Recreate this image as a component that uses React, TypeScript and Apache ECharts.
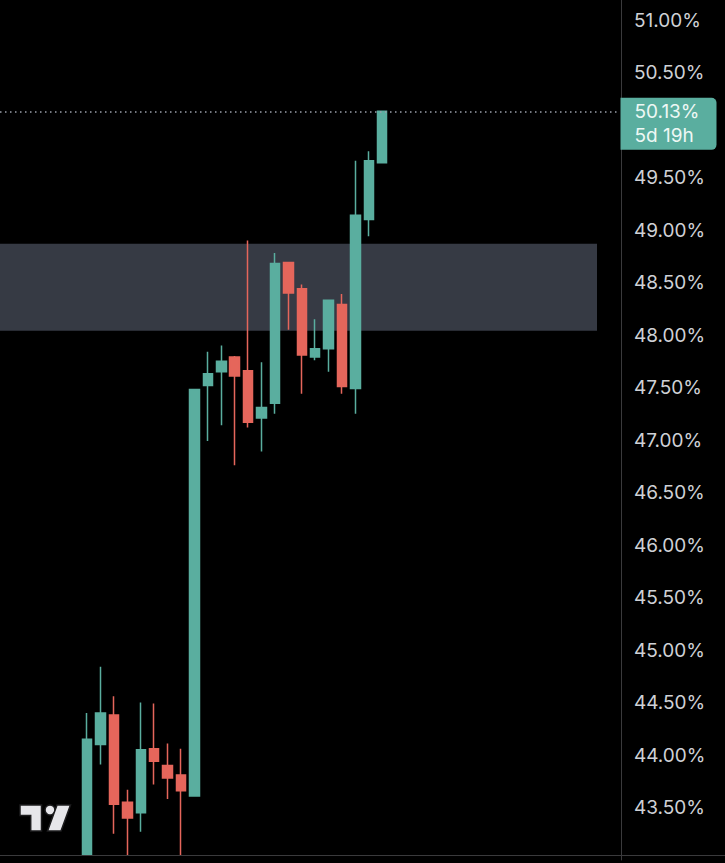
import React, { useEffect, useRef } from "react";
import * as echarts from "echarts";

// ---- data ----
const slots = [
  "s01", "s02", "s03", "s04", "s05", "s06", "s07", "s08", "s09", "s10",
  "s11", "s12", "s13", "s14", "s15", "s16", "s17", "s18", "s19", "s20",
  "s21", "s22", "s23", "s24", "s25", "s26", "s27", "s28", "s29", "s30",
  "s31", "s32", "s33", "s34", "s35", "s36", "s37", "s38", "s39", "s40",
  "s41", "s42", "s43", "s44", "s45", "s46",
];
const leadingEmpty = 6;

const openVals = [
  42.95, 44.1, 44.38, 43.55, 43.45, 44.06, 43.9, 43.81, 43.61, 47.52, 47.65, 47.79,
  47.66, 47.21, 47.35, 48.69, 48.44, 47.79, 47.87, 48.29, 47.49, 49.1, 49.64,
];
const closeVals = [
  44.15, 44.4, 43.53, 43.4, 44.05, 43.94, 43.78, 43.66, 47.48, 47.63, 47.75, 47.61,
  47.17, 47.31, 48.68, 48.4, 47.81, 47.87, 48.33, 47.51, 49.14, 49.66, 50.13,
];
const lowVals = [
  42.9, 43.91, 43.25, 42.9, 43.27, 43.72, 43.58, 42.9, 43.61, 46.99, 47.14, 46.76,
  47.12, 46.89, 47.25, 48.05, 47.44, 47.76, 47.65, 47.44, 47.25, 48.94, 49.64,
];
const highVals = [
  44.4, 44.84, 44.56, 43.67, 44.5, 44.49, 44.11, 44.06, 47.48, 47.84, 47.9, 47.8,
  48.9, 47.74, 48.78, 48.69, 48.48, 48.15, 48.33, 48.39, 49.66, 49.75, 50.13,
];

const lastPrice = 50.13;
const countdown = "5d 19h";
const zoneTop = 48.87;
const zoneBottom = 48.04;

const yMin = 43;
const yMax = 51.1905;
const yStep = 0.5;
const labelMin = 43.5;
const labelMax = 51;
const hiddenLabels = [50]; // covered by the last-price tag in the reference

const GREEN = "#5aae9f";
const RED = "#e5665b";

export default function App() {
  const ref = useRef<HTMLDivElement>(null);

  useEffect(() => {
    if (!ref.current) return;
    const chart = echarts.init(ref.current, null, { renderer: "svg" });

    const candleData: any[] = [];
    for (let i = 0; i < leadingEmpty; i++) candleData.push(["-", "-", "-", "-"]);
    for (let i = 0; i < openVals.length; i++) {
      candleData.push([openVals[i], closeVals[i], lowVals[i], highVals[i]]);
    }

    chart.setOption({
      animation: false,
      backgroundColor: "#000000",
      textStyle: { fontFamily: "Inter" },
      grid: { left: -2.54, top: 0, width: 619.5, bottom: 3, containLabel: false },
      xAxis: {
        type: "category",
        data: slots,
        boundaryGap: true,
        axisLine: { show: false },
        axisTick: { show: false },
        axisLabel: { show: false },
        splitLine: { show: false },
      },
      yAxis: {
        type: "value",
        position: "right",
        offset: 4,
        min: yMin,
        max: yMax,
        interval: yStep,
        axisLine: { show: true, lineStyle: { color: "#3a3a3c", width: 1 } },
        axisTick: { show: false },
        splitLine: { show: false },
        axisLabel: {
          margin: 13,
          color: "#cfd1d6",
          fontSize: 19,
          fontFamily: "Inter",
          formatter: (v: number) => {
            const onStep = Math.abs(v / yStep - Math.round(v / yStep)) < 1e-6;
            if (!onStep || v < labelMin - 1e-6 || v > labelMax + 1e-6) return "";
            if (hiddenLabels.some((h) => Math.abs(h - v) < 1e-6)) return "";
            return v.toFixed(2) + "%";
          },
        },
      },
      series: [
        {
          type: "candlestick",
          data: candleData,
          barWidth: 10,
          itemStyle: {
            color: GREEN,
            color0: RED,
            borderColor: GREEN,
            borderColor0: RED,
            borderWidth: 1.5,
          },
          markArea: {
            silent: true,
            itemStyle: { color: "#363a44" },
            data: [[{ yAxis: zoneTop, x: 0 }, { yAxis: zoneBottom, x: 597 }]],
          },
          markLine: {
            silent: true,
            symbol: ["none", "none"],
            label: { show: false },
            lineStyle: { color: "#9aa0ab", type: [1.5, 3.5], width: 1.5 },
            data: [{ yAxis: lastPrice }],
          },
          markPoint: {
            silent: true,
            z: 20,
            symbol: "rect",
            symbolSize: 1,
            itemStyle: { color: "rgba(0,0,0,0)" },
            data: [{ x: 621, yAxis: lastPrice, value: lastPrice }],
            label: {
              show: true,
              position: [0, -13],
              align: "left",
              verticalAlign: "top",
              formatter: () => `${lastPrice.toFixed(2)}%\n${countdown}`,
              color: "#eef8f5",
              fontSize: 19,
              fontFamily: "Inter",
              lineHeight: 24,
              backgroundColor: GREEN,
              padding: [2, 9, 2, 14],
              width: 73,
              borderRadius: [0, 5, 5, 0],
            },
          },
        },
      ],
      graphic: [
        {
          type: "rect",
          z: 50,
          silent: true,
          shape: { x: 0, y: 856, width: 620, height: 7 },
          style: { fill: "#000000" },
        },
        {
          type: "line",
          z: 51,
          silent: true,
          shape: { x1: 0, y1: 855.5, x2: 725, y2: 855.5 },
          style: { stroke: "#3a3a3c", lineWidth: 1 },
        },
        {
          type: "polygon",
          z: 60,
          silent: true,
          shape: {
            points: [
              [20, 805], [41.5, 805], [41.5, 831], [30.7, 831], [30.7, 815.5], [20, 815.5],
            ],
          },
          style: { fill: "#e6e6ea", stroke: "#1c1c1e", lineWidth: 1.5 },
        },
        {
          type: "circle",
          z: 60,
          silent: true,
          shape: { cx: 50, cy: 810, r: 5 },
          style: { fill: "#e6e6ea", stroke: "#1c1c1e", lineWidth: 1.5 },
        },
        {
          type: "polygon",
          z: 60,
          silent: true,
          shape: { points: [[57, 805], [70.5, 805], [61, 831], [47.5, 831]] },
          style: { fill: "#e6e6ea", stroke: "#1c1c1e", lineWidth: 1.5 },
        },
      ],
    });

    return () => chart.dispose();
  }, []);

  return (
    <div
      ref={ref}
      style={{ position: "fixed", left: 0, top: 0, width: 725, height: 863, background: "#000" }}
    />
  );
}
